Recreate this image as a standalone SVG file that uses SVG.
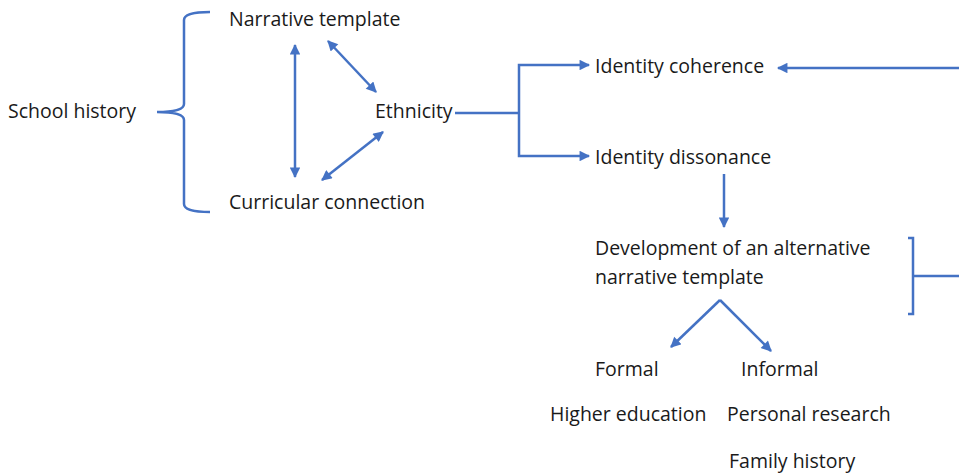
<svg xmlns="http://www.w3.org/2000/svg" width="959" height="473" viewBox="0 0 959 473">
<defs>
<marker id="ah" viewBox="0 0 10 10" refX="9" refY="5" markerWidth="4.6" markerHeight="4.2" orient="auto-start-reverse" markerUnits="strokeWidth">
<path d="M0,0 L10,5 L0,10 z" fill="#4472C4"/>
</marker>
<style>
text{font-family:"Open Sans","Liberation Sans",Arial,sans-serif;font-size:19.5px;fill:#1a1a1a}
.c{fill:none;stroke:#4472C4;stroke-width:2.5}
.a{marker-end:url(#ah)}
.b{marker-start:url(#ah);marker-end:url(#ah)}
</style>
</defs>
<rect width="959" height="473" fill="#fff"/>
<g id="connectors">
<path class="c" d="M210,12 Q184,12 184,20 L184,104 Q184,112 157,112 Q184,112 184,120 L184,204 Q184,212 210,212"/>
<line class="c b" x1="295" y1="45" x2="295" y2="177"/>
<line class="c b" x1="328" y1="41" x2="376" y2="92"/>
<line class="c b" x1="322" y1="180" x2="383" y2="132"/>
<polyline class="c" points="455,113 519,113"/>
<polyline class="c a" points="519,113 519,65 589,65"/>
<polyline class="c a" points="519,113 519,156 589,156"/>
<line class="c a" x1="959" y1="68" x2="778" y2="68"/>
<line class="c a" x1="724" y1="174" x2="724" y2="227"/>
<path class="c" d="M908,238 L913,238 L913,314 L908,314 M913,276 L959,276"/>
<line class="c a" x1="720" y1="300" x2="671" y2="347"/>
<line class="c a" x1="720" y1="300" x2="771" y2="351"/>
</g>
<g id="school-history"><text x="8" y="118">School history</text></g>
<g id="narrative-template"><text x="229" y="26">Narrative template</text></g>
<g id="curricular-connection"><text x="229" y="209">Curricular connection</text></g>
<g id="ethnicity"><text x="375" y="118">Ethnicity</text></g>
<g id="identity-coherence"><text x="595" y="73">Identity coherence</text></g>
<g id="identity-dissonance"><text x="595" y="164">Identity dissonance</text></g>
<g id="alternative-template"><text x="595" y="255">Development of an alternative</text><text x="595" y="284">narrative template</text></g>
<g id="formal"><text x="595" y="376">Formal</text></g>
<g id="informal"><text x="741" y="376">Informal</text></g>
<g id="higher-education"><text x="550" y="421">Higher education</text></g>
<g id="personal-research"><text x="727" y="421">Personal research</text></g>
<g id="family-history"><text x="729" y="468">Family history</text></g>
</svg>
